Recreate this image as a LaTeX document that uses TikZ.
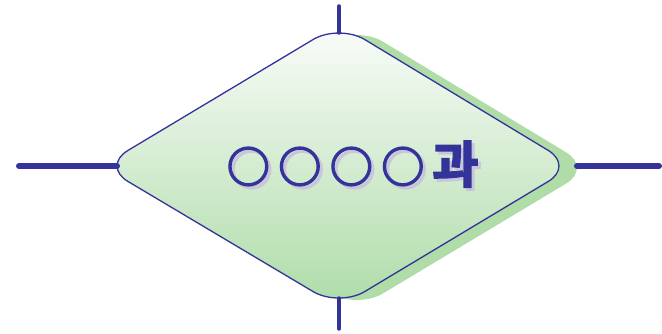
\documentclass[tikz,border=0pt]{standalone}
\usepackage{fontspec}
\newfontfamily\kr{Noto Sans CJK KR}[BoldFont={Noto Sans CJK KR Bold}, BoldFeatures={FakeBold=3.5}]
\definecolor{navy}{HTML}{333399}
\definecolor{shadowgreen}{HTML}{B0DCA8}
\definecolor{topgreen}{HTML}{FAFCFA}
\definecolor{botgreen}{HTML}{AEDCA8}
\definecolor{txtshadow}{HTML}{C9C6DC}
\newcommand{\labelcontent}{{\fontsize{43}{43}\selectfont ○\hspace{8.5pt}○\hspace{8.5pt}○\hspace{8.5pt}○}\hspace{8pt}{\fontsize{50}{50}\selectfont 과}}
\tikzset{
  armline/.style={draw=navy, line cap=round},
  labeltext/.style={font=\kr\bfseries, inner sep=0pt, anchor=base},
}
\begin{document}
\begin{tikzpicture}[x=1pt,y=-1pt]
\useasboundingbox (0,0) rectangle (662,334);
% shadow
\fill[shadowgreen, rounded corners=30pt, shift={(18,2)}]
  (220.5,95) -- (339,24) -- (574,166) -- (339,307) -- (102,166) -- cycle;
% diamond
\path[draw=navy, line width=1.3pt, top color=topgreen, bottom color=botgreen, rounded corners=30pt]
  (220.5,95) -- (339,24) -- (574,166) -- (339,307) -- (102,166) -- cycle;
\coordinate (T) at (339,33);
\coordinate (B) at (339,298);
\coordinate (L) at (117,166);
\coordinate (R) at (577,166);
\coordinate (Tend) at (339,6);
\coordinate (Bend) at (339,329);
\coordinate (Lend) at (19,166);
\coordinate (Rend) at (659,166);
\draw[armline, line width=3.5pt] (T) -- (Tend);
\draw[armline, line width=3.5pt] (B) -- (Bend);
\draw[armline, line width=6pt] (L) -- (Lend);
\draw[armline, line width=6pt] (R) -- (Rend);
\node[labeltext, text=txtshadow] (lblshadow) at (355.6,185.8) {\labelcontent};
\node[labeltext, text=navy] (lbl) at (352.6,182.8) {\labelcontent};
\end{tikzpicture}
\end{document}
